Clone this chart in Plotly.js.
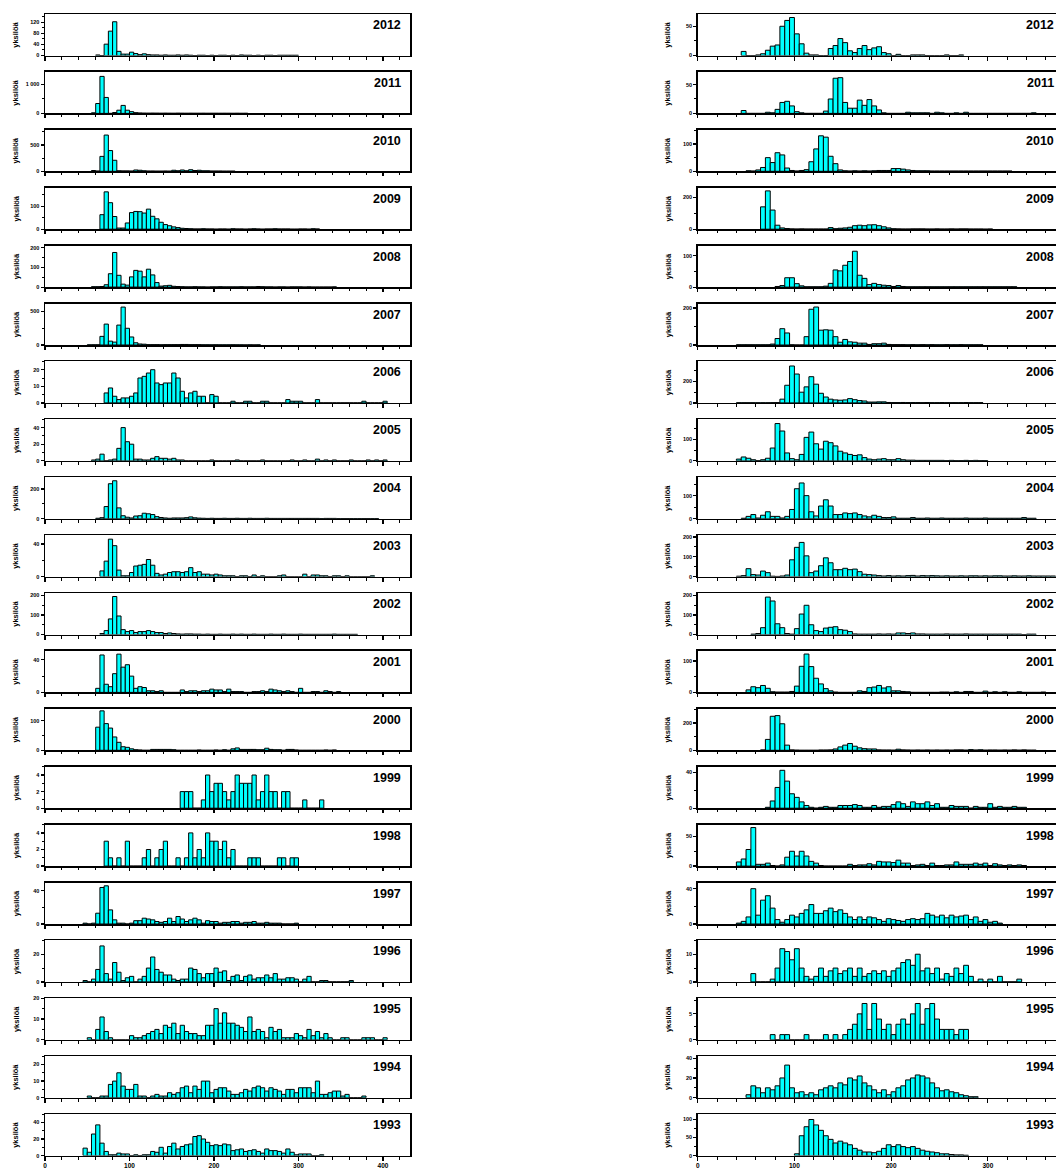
<!DOCTYPE html>
<html>
<head>
<meta charset="utf-8">
<script src="https://cdn.plot.ly/plotly-3.0.1.min.js"></script>
<style>html,body{margin:0;padding:0;overflow:hidden;background:#fff}</style>
</head>
<body>
<div id="chart" style="width:1056px;height:1169px"></div>
<script>
// Length-frequency histograms (5 mm classes), one panel per year, two sampling series.
const years = [2012, 2011, 2010, 2009, 2008, 2007, 2006, 2005, 2004, 2003, 2002, 2001, 2000, 1999, 1998, 1997, 1996, 1995, 1994, 1993];
const binWidth = 5;
const yTitle = 'yksilöä';

// Series A: start = lower edge of the first class, counts = individuals per class
const a2012 = {start: 60, counts: [2,0,41,88,122,15,5,5,12,7,3,6,3,2,2,1,2,1,1,2,1,2,1,0,1,1,0,1,0,1,1,0,1,0,2,1,1,0,1,0,1,1,0,1,1,1,1,1]};
const a2011 = {start: 55, counts: [20,340,1275,550,0,30,110,275,110,60,25,15,10,8,10,8,6,8,6,5,8,6,5,6,5,5,6,4,5,5,4,5,4,3,5,3,4]};
const a2010 = {start: 55, counts: [15,5,284,690,395,210,10,8,8,5,25,20,10,5,5,3,3,5,3,20,10,25,10,30,15,20,10,10,5,5,5,3,3,3]};
const a2009 = {start: 65, counts: [63,162,115,55,5,5,27,72,77,76,70,87,56,45,30,20,15,10,7,4,3,2,1,1,2,1,1,0,1,1,0,2,1,1,0,1,2,1,0,1,1,2,1,1,1,0,0,1,1,0,2,1]};
const a2008 = {start: 55, counts: [2,2,3,12,68,176,60,15,10,52,85,81,52,91,62,23,5,7,9,4,3,2,1,1,2,1,1,0,1,1,2,1,1,1,1,2,1,1,1,3,2,1,1,0,1,1,0,1,1,1,0,1,0,0,0,0,0,1]};
const a2007 = {start: 50, counts: [2,3,3,128,310,57,43,295,562,248,119,33,15,12,5,5,5,3,5,5,5,5,8,8,5,5,5,3,3,2,3,2,2,2,3,2,2,1,2,1,2]};
const a2006 = {start: 70, counts: [6,9,4,2,3,3,4,6,15,16,18,20,12,11,12,12,18,15,7,3,6,7,4,4,0,5,4,0,0,0,1,0,0,1,1,0,0,1,1,0,0,0,0,2,1,1,1,0,0,0,2,0,0,0,0,0,0,0,0,0,0,1,0,0,0,0,1]};
const a2005 = {start: 55, counts: [1,2,8,0,1,2,15,40,23,20,2,2,1,1,3,5,3,3,2,3,1,1,0,0,0,0,0,0,1,0,0,0,0,0,1,0,0,0,0,0,1,0,0,0,0,0,0,1,0,0,1,0,0,2,0,1,0,1,0,0,0,1,0,0,0,1,0,1,0,1]};
const a2004 = {start: 60, counts: [3,7,82,236,256,73,20,10,5,18,20,37,33,28,14,8,5,3,5,5,5,7,12,6,4,3,2,3,2,2,3,2,2,3,2,2,3,2,2,2,3,2,2,2,2,2,2,2,2,2,2,2,2,1,2,2,2,1,1,1,1,1,1,1,1,1,1]};
const a2003 = {start: 65, counts: [7,19,46,38,8,1,1,5,13,14,15,21,14,4,2,3,5,6,6,5,6,11,5,6,3,3,2,3,2,1,1,1,0,1,1,0,2,0,1,0,0,0,1,2,0,0,0,0,3,0,2,2,1,1,0,1,1,0,1,0,0,0,0,0,1]};
const a2002 = {start: 65, counts: [5,20,80,195,95,25,15,20,10,15,15,20,15,10,10,5,8,5,3,2,3,3,2,2,1,2,1,1,2,1,1,2,1,2,1,1,2,1,1,1,2,1,1,2,1,1,1,2,1,1,1,1,1,1,1,2,1,1,1,1,1]};
const a2001 = {start: 60, counts: [5,46,10,7,23,47,31,34,20,5,7,6,2,2,1,2,0,0,0,0,3,1,2,2,1,2,2,4,3,3,1,4,1,1,1,0,0,1,1,2,1,4,3,2,1,2,1,0,5,0,0,1,1,0,2,1,0,1]};
const a2000 = {start: 60, counts: [78,133,90,75,45,27,12,10,5,2,1,0,0,3,3,3,3,3,2,0,0,0,0,0,1,0,0,0,1,0,2,0,5,8,3,3,3,3,2,2,7,3,2,2,0,3,3,1,0,0,0,0,0,0,1,0,1]};
const a1999 = {start: 160, counts: [2,2,2,0,0,1,4,2,3,3,2,1,2,4,3,3,3,4,1,2,4,2,2,0,2,2,0,0,0,1,0,0,0,1]};
const a1998 = {start: 70, counts: [3,1,0,1,0,3,0,0,0,1,2,0,1,2,3,0,0,1,0,1,4,1,2,1,4,3,3,2,3,1,2,0,0,0,1,1,1,0,0,0,0,1,1,0,1,1]};
const a1997 = {start: 45, counts: [1,0,1,13,44,46,17,5,1,1,0,1,4,4,7,6,5,3,2,3,7,3,9,6,3,5,7,5,1,4,3,3,1,2,2,3,3,1,2,2,3,1,1,2,1,1,1,0,0,0,1]};
const a1996 = {start: 45, counts: [1,0,2,9,26,6,2,14,7,1,3,4,0,2,4,10,18,9,7,5,5,2,1,2,2,10,9,6,3,6,6,10,7,8,1,4,5,1,4,5,2,3,3,5,3,6,2,2,3,3,2,0,2,4,0,0,1,1,0,0,0,0,0,1]};
const a1995 = {start: 50, counts: [1,0,5,11,4,1,0,0,0,0,2,1,1,2,3,4,5,3,7,6,8,3,7,4,3,3,2,2,7,7,15,8,13,8,8,7,6,4,11,4,5,4,1,6,4,5,1,1,1,3,2,1,5,2,4,1,3,1,0,0,1,1,0,0,0,1,1,1,0,0,1]};
const a1994 = {start: 50, counts: [1,0,0,1,1,8,10,15,7,5,5,8,1,1,0,1,2,1,1,3,2,3,6,7,3,7,5,10,10,3,5,6,6,4,2,2,3,5,4,6,7,6,4,6,5,4,2,5,5,3,6,6,6,3,10,2,2,3,4,4,1,2,0,0,0,1]};
const a1993 = {start: 45, counts: [9,4,26,37,15,5,1,1,3,2,2,0,1,0,1,1,5,4,10,3,11,15,8,11,13,14,23,24,20,16,12,13,12,14,13,6,7,8,5,6,7,5,3,8,6,6,5,3,8,4,1,2,2,2,0,0,1]};

// Series B
const b2012 = {start: 45, counts: [7,0,0,1,3,9,16,18,50,60,65,37,20,4,1,1,0,0,12,17,29,22,8,5,12,17,10,13,15,5,3,0,2,0,0,1,1,1,0,0,0,0,1,0,0,1]};
const b2011 = {start: 45, counts: [5,0,0,0,0,2,1,7,19,21,13,3,1,0,0,0,0,4,25,61,62,19,9,9,23,14,24,13,6,1,0,0,0,0,2,1,1,1,1,0,2,1,0,0,1,0,2,0,0,0,0,0,0,0,0,0,0,0,0,0,1]};
const b2010 = {start: 50, counts: [2,1,5,14,50,32,68,60,12,3,1,3,6,35,82,130,125,55,28,5,2,1,2,1,2,1,2,3,3,3,10,10,8,5,3,2,2,2,1,1,1,1,1,1,1,1,1,1,1,1,1,1,1,1,1]};
const b2009 = {start: 65, counts: [140,240,120,25,8,4,2,1,2,1,1,1,1,1,10,3,6,8,12,22,25,22,27,28,22,15,8,3,2,1,1,2,2,2,1,1,2,1,1,2,1,2,2,1,1,1,0,1]};
const b2008 = {start: 80, counts: [2,5,30,30,11,4,1,1,1,1,3,12,55,52,70,82,115,38,28,8,12,8,6,5,2,5,2,1,1,1,1,1,1,1,1,1,1,1,1,1,1,1,1,1,1,1,1,1,1,1]};
const b2007 = {start: 40, counts: [1,1,1,1,1,1,1,5,35,88,65,1,0,0,45,193,205,80,82,80,45,15,30,17,15,10,10,3,7,7,10,3,2,2,2,1,2,1,2,1,2,1,1,2,1,1,2,1,1,1,1]};
const b2006 = {start: 40, counts: [1,1,1,1,1,1,1,2,3,35,165,345,270,100,150,245,175,90,55,35,28,25,28,40,30,22,18,8,8,10,10,4,3,3,4,3,3,3,2,3,2,2,3,2,2,2,2,3,2,2,2]};
const b2005 = {start: 40, counts: [8,18,12,5,1,5,12,60,175,140,37,10,5,30,110,135,80,55,92,85,70,45,37,30,25,28,15,8,5,8,10,5,5,10,5,3,3,2,2,2,2,2,2,1,2,1,1,2,1,2,1,1]};
const b2004 = {start: 45, counts: [2,10,18,3,15,30,10,10,3,10,40,130,155,100,30,12,55,82,55,18,18,25,22,25,18,12,8,15,10,5,5,8,2,2,2,5,2,2,3,2,2,3,2,2,2,2,3,2,2,2,3,2,2,2,2,2,2,2,5,2,2]};
const b2003 = {start: 40, counts: [2,5,40,10,8,28,20,2,1,3,8,85,148,173,105,20,28,55,95,70,35,35,42,35,38,25,12,10,8,5,3,5,3,4,3,5,6,3,5,4,5,4,3,4,3,3,4,3,4,4,3,4,3,4,4,3,3,4,3,3,4,3,3,3,3,3]};
const b2002 = {start: 55, counts: [2,5,35,192,172,55,35,5,2,30,105,150,50,20,15,33,37,40,25,22,15,3,2,2,2,2,3,2,3,2,8,8,5,8,3,3,2,2,2,2,3,2,2,2,3,2,2,2,2,2,2,2,2,2,2,2,0,2,2]};
const b2001 = {start: 50, counts: [8,18,15,22,13,2,1,1,1,3,20,83,122,82,45,27,12,5,1,0,0,0,0,5,3,15,17,22,14,18,5,5,3,2,0,0,0,0,0,0,1,1,0,2,0,3,3,0,0,4,0,2,0,2,0,0,2,0,0,0,0,1]};
const b2000 = {start: 65, counts: [3,80,250,255,195,38,3,1,0,0,0,0,2,2,3,10,25,38,50,30,18,12,10,10,3,2,2,1,8,3,2,1,2,1,2,1,2,1,2,1,3,3,1,5,2,4,1,2,2,1,2,1,3,1,3,1,1]};
const b1999 = {start: 70, counts: [1,8,23,42,30,16,12,7,3,1,0,1,2,1,1,3,3,3,4,3,1,1,3,1,2,2,4,7,5,2,7,5,5,7,3,5,1,1,3,2,2,2,0,2,1,1,5,1,2,1,1,2,1,1]};
const b1998 = {start: 40, counts: [7,12,28,65,3,3,5,1,0,2,15,25,17,25,17,8,5,1,0,0,0,0,0,3,1,2,2,4,2,8,7,7,6,10,5,5,1,2,3,1,5,1,1,2,2,7,3,3,3,5,3,5,1,4,2,1,2,1,2,1]};
const b1997 = {start: 40, counts: [1,3,8,40,10,27,32,18,5,2,5,10,8,12,16,22,12,12,15,18,14,16,12,8,5,8,5,8,7,5,3,6,5,4,3,5,6,5,6,12,10,8,10,7,10,8,9,10,5,8,3,5,2,3,1]};
const b1996 = {start: 55, counts: [3,0,0,0,1,5,12,11,8,12,5,2,1,2,5,2,4,5,3,4,5,2,5,2,3,4,3,4,2,4,5,7,8,6,10,4,5,3,5,1,3,2,5,3,6,2,0,1,0,1,0,2,0,0,0,1]};
const b1995 = {start: 75, counts: [1,0,1,1,0,0,0,1,0,0,0,1,0,1,0,1,2,3,5,7,2,7,4,2,3,1,3,4,3,5,7,3,6,7,4,2,2,2,1,2,2]};
const b1994 = {start: 50, counts: [3,12,10,5,10,8,12,20,33,10,5,6,3,5,3,8,10,12,10,15,13,20,18,22,15,12,8,5,8,3,6,10,12,18,20,23,22,20,15,10,7,8,6,5,3,2,1,1]};
const b1993 = {start: 100, counts: [5,55,80,100,85,70,55,45,35,40,35,30,20,15,10,10,8,12,20,30,25,30,25,22,25,20,15,12,10,8,5,5,3,2,2,1]};

const seriesA = [a2012,a2011,a2010,a2009,a2008,a2007,a2006,a2005,a2004,a2003,a2002,a2001,a2000,a1999,a1998,a1997,a1996,a1995,a1994,a1993];
const seriesB = [b2012,b2011,b2010,b2009,b2008,b2007,b2006,b2005,b2004,b2003,b2002,b2001,b2000,b1999,b1998,b1997,b1996,b1995,b1994,b1993];

// y-axis maxima and labelled tick steps per panel
const yMaxA  = [150,1430,790,180,211,615,25,50,280,51,213,51,140,5,5,50,30,20,25,50];
const yStepA = [40,1000,500,100,100,500,10,20,200,40,100,40,100,2,2,40,20,10,10,20];
const yMaxB  = [71,72,152,260,133,224,388,195,180,210,213,132,305,46,70,47,15,8,42,115];
const yStepB = [50,50,100,200,100,200,200,100,100,100,100,100,200,40,50,40,10,5,20,50];

// ---- layout geometry (pixels) ----
const W = 1056, H = 1169;
const rowTop0 = 14, rowPitch = 57.9, panelH = 41.5;
const cols = [
  {x0: 45, x1: 410, xmax: 432, titleX: 16, yearX: 0.981, mirrorY: true, series: seriesA, yMax: yMaxA, yStep: yStepA},
  {x0: 697.7, x1: 1056, xmax: 370.5, titleX: 668, yearX: 0.999, mirrorY: false, series: seriesB, yMax: yMaxB, yStep: yStepB}
];

const FONT = 'Liberation Sans, Arial, Helvetica, sans-serif';
const traces = [];
const layout = {
  width: W, height: H,
  margin: {l: 0, r: 0, t: 0, b: 0},
  paper_bgcolor: '#fff', plot_bgcolor: '#fff',
  showlegend: false,
  separators: '. ',
  font: {family: FONT, color: '#000'},
  annotations: []
};

let n = 0;
cols.forEach((c, ci) => {
  years.forEach((yr, ri) => {
    n += 1;
    const xa = n === 1 ? 'xaxis' : 'xaxis' + n;
    const ya = n === 1 ? 'yaxis' : 'yaxis' + n;
    const xr = n === 1 ? 'x' : 'x' + n;
    const yrf = n === 1 ? 'y' : 'y' + n;
    const s = c.series[ri];
    const xs = s.counts.map((_, i) => s.start + binWidth * i + binWidth / 2);

    traces.push({
      type: 'bar', x: xs, y: s.counts, width: binWidth,
      xaxis: xr, yaxis: yrf,
      marker: {color: '#00FFFF', line: {color: '#000', width: 1}},
      hoverinfo: 'skip'
    });

    const top = rowTop0 + rowPitch * ri;
    const bottom = top + panelH;
    const last = ri === years.length - 1;

    layout[xa] = {
      domain: [c.x0 / W, c.x1 / W],
      range: [0, c.xmax], autorange: false,
      anchor: yrf,
      tick0: 0, dtick: 100,
      ticks: 'outside', ticklen: 3.5, tickwidth: 1.2, tickcolor: '#000',
      minor: {dtick: 20, ticks: 'outside', ticklen: 2.5, tickwidth: 1, tickcolor: '#000'},
      showticklabels: last,
      tickfont: {family: FONT, size: 6.5, weight: 'bold', color: '#000'},
      showline: true, linecolor: '#000', linewidth: 1.5, mirror: true,
      showgrid: false, zeroline: false, fixedrange: true
    };
    layout[ya] = {
      domain: [1 - bottom / H, 1 - top / H],
      range: [0, c.yMax[ri]], autorange: false,
      anchor: xr,
      tick0: 0, dtick: c.yStep[ri],
      separatethousands: true,
      ticks: 'outside', ticklen: 3, tickwidth: 1.2, tickcolor: '#000',
      minor: {dtick: c.yStep[ri] / 2, ticks: 'outside', ticklen: 2, tickwidth: 1, tickcolor: '#000'},
      tickfont: {family: FONT, size: 5.5, weight: 'bold', color: '#000'},
      showline: true, linecolor: '#000', linewidth: 1.5, mirror: c.mirrorY,
      showgrid: false, zeroline: false, fixedrange: true
    };

    // year label, top right inside the panel
    layout.annotations.push({
      xref: xr + ' domain', yref: yrf + ' domain',
      x: c.yearX, y: 1, xanchor: 'right', yanchor: 'top', yshift: -2,
      text: String(yr), showarrow: false,
      font: {family: FONT, size: 12.5, weight: 'bold', color: '#000'}
    });
    // vertical axis title
    layout.annotations.push({
      xref: 'paper', yref: yrf + ' domain',
      x: c.titleX / W, y: 0.5, xanchor: 'center', yanchor: 'middle',
      text: yTitle, textangle: -90, showarrow: false,
      font: {family: FONT, size: 7.5, weight: 'bold', color: '#000'}
    });
  });
});

Plotly.newPlot('chart', traces, layout, {staticPlot: true, displayModeBar: false});
</script>
</body>
</html>
